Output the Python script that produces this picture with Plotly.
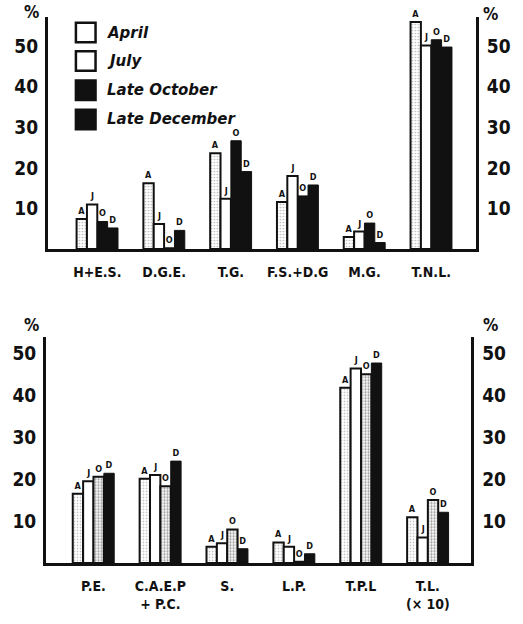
import plotly.graph_objects as go

# ---------------- data ----------------
top_categories = ["H+E.S.", "D.G.E.", "T.G.", "F.S.+D.G", "M.G.", "T.N.L."]
top_april = [7.4, 16.2, 23.6, 11.6, 3.0, 56.0]
top_july = [11.0, 6.2, 12.4, 18.0, 4.3, 50.2]
top_october = [6.8, 0.3, 26.7, 13.1, 6.4, 51.6]
top_december = [5.2, 4.6, 19.1, 15.8, 1.6, 49.8]

bot_categories = ["P.E.", "C.A.E.P<br>+ P.C.", "S.", "L.P.", "T.P.L", "T.L.<br>(× 10)"]
bot_april = [16.5, 20.1, 3.9, 4.9, 41.8, 10.9]
bot_july = [19.5, 21.0, 4.7, 3.9, 46.4, 6.1]
bot_october = [20.6, 18.3, 8.0, 0.3, 45.0, 15.0]
bot_december = [21.4, 24.3, 3.4, 2.2, 47.7, 12.1]

series_names = ["April", "July", "Late October", "Late December"]
series_letters = ["A", "J", "O", "D"]
y_ticks = [10, 20, 30, 40, 50]

# ---------------- styling ----------------
NUM_FONT = "DejaVu Sans Condensed, DejaVu Sans, sans-serif"
BLACK = "#111111"

styles_top = [
    dict(color="white", line=dict(color=BLACK, width=2),
         pattern=dict(shape=".", fgcolor="#777777", size=3, solidity=0.25)),
    dict(color="white", line=dict(color=BLACK, width=2)),
    dict(color=BLACK, line=dict(color=BLACK, width=1)),
    dict(color=BLACK, line=dict(color=BLACK, width=1)),
]
styles_bot = [
    dict(color="white", line=dict(color=BLACK, width=2),
         pattern=dict(shape=".", fgcolor="#777777", size=3, solidity=0.25)),
    dict(color="white", line=dict(color=BLACK, width=2)),
    dict(color="white", line=dict(color=BLACK, width=2),
         pattern=dict(shape=".", fgcolor="#444444", size=3, solidity=0.45)),
    dict(color=BLACK, line=dict(color=BLACK, width=1)),
]

fig = go.Figure()

top_series = [top_april, top_july, top_october, top_december]
bot_series = [bot_april, bot_july, bot_october, bot_december]

for i, name in enumerate(series_names):
    fig.add_trace(go.Bar(
        x=top_categories, y=top_series[i], name=name,
        marker=styles_top[i],
        text=[series_letters[i]] * len(top_categories),
        textposition="outside", constraintext="none", cliponaxis=False,
        textfont=dict(family=NUM_FONT, size=9, color=BLACK, weight="bold"),
        xaxis="x", yaxis="y", showlegend=False,
    ))
for i, name in enumerate(series_names):
    fig.add_trace(go.Bar(
        x=bot_categories, y=bot_series[i], name=name,
        marker=styles_bot[i],
        text=[series_letters[i]] * len(bot_categories),
        textposition="outside", constraintext="none", cliponaxis=False,
        textfont=dict(family=NUM_FONT, size=9, color=BLACK, weight="bold"),
        xaxis="x2", yaxis="y2", showlegend=False,
    ))

# ---------------- layout ----------------
L, R, T, B = 33, 30, 17, 47
W, H = 523, 624
plot_w = W - L - R
plot_h = H - T - B

def px_x(px):
    return (px - L) / plot_w

def px_y(py):
    return 1 - (py - T) / plot_h

top_dom = [px_y(255), 1.0]
bot_dom = [0.0, px_y(345)]

ytick_font = dict(family=NUM_FONT, size=19, color=BLACK, weight="bold")
xtick_font = dict(family=NUM_FONT, size=14, color=BLACK, weight="bold")

axis_common_y = dict(
    showgrid=False, zeroline=False, showline=True, linewidth=3, linecolor=BLACK,
    tickvals=y_ticks, ticks="", tickfont=ytick_font, fixedrange=True,
)

top_range = [0, (255 - 17) / 4.16]
bot_range = [0, (577 - 345) / 4.3]

fig.update_layout(
    width=W, height=H,
    margin=dict(l=L, r=R, t=T, b=B),
    paper_bgcolor="white", plot_bgcolor="white",
    barmode="group", bargap=0.38, bargroupgap=0.0,
    showlegend=False,
    xaxis=dict(domain=[px_x(35), px_x(493)], anchor="y", range=[-0.74, 5.67],
               showline=True, linewidth=3, linecolor=BLACK, showgrid=False,
               ticks="", tickfont=xtick_font, ticklabelstandoff=8),
    yaxis=dict(domain=top_dom, anchor="x", range=top_range, side="left",
               ticklabelstandoff=3, **axis_common_y),
    yaxis3=dict(domain=top_dom, anchor="x", overlaying="y", range=top_range,
                side="right", ticklabelstandoff=4, **axis_common_y),
    xaxis2=dict(domain=[px_x(33), px_x(488)], anchor="y2", range=[-0.71, 5.65],
                showline=True, linewidth=3, linecolor=BLACK, showgrid=False,
                ticks="", tickfont=xtick_font, ticklabelstandoff=8),
    yaxis2=dict(domain=bot_dom, anchor="x2", range=bot_range, side="left",
                ticklabelstandoff=3, **axis_common_y),
    yaxis4=dict(domain=bot_dom, anchor="x2", overlaying="y2", range=bot_range,
                side="right", ticklabelstandoff=4, **axis_common_y),
)

# invisible traces so the right-hand axes are drawn
fig.add_trace(go.Scatter(x=[top_categories[0]], y=[0], xaxis="x", yaxis="y3",
                         mode="markers", marker=dict(opacity=0), showlegend=False,
                         hoverinfo="skip"))
fig.add_trace(go.Scatter(x=[bot_categories[0]], y=[0], xaxis="x2", yaxis="y4",
                         mode="markers", marker=dict(opacity=0), showlegend=False,
                         hoverinfo="skip"))

# "%" unit labels
for (xp, yp) in [(17, 12), (508, 14), (17, 333), (508, 333)]:
    fig.add_annotation(xref="paper", yref="paper", x=px_x(xp), y=px_y(yp),
                       xanchor="center", yanchor="middle",
                       text="<b>%</b>", showarrow=False,
                       font=dict(family=NUM_FONT, size=17, color=BLACK))

# manual legend (top panel)
legend_rows = [(23, 43), (52, 72), (82, 102), (112, 132)]
legend_fill = ["white", "white", BLACK, BLACK]
for (y0, y1), name, fill in zip(legend_rows, series_names, legend_fill):
    fig.add_shape(type="rect", xref="paper", yref="paper",
                  x0=px_x(65), x1=px_x(86), y0=px_y(y1), y1=px_y(y0),
                  fillcolor=fill, line=dict(color=BLACK, width=2.5))
    fig.add_annotation(xref="paper", yref="paper", x=px_x(96), y=px_y((y0 + y1) / 2),
                       xanchor="left", yanchor="middle", showarrow=False,
                       text="<b><i>" + name + "</i></b>",
                       font=dict(family="DejaVu Sans, sans-serif", size=15, color=BLACK))

fig.write_html("out.html")
